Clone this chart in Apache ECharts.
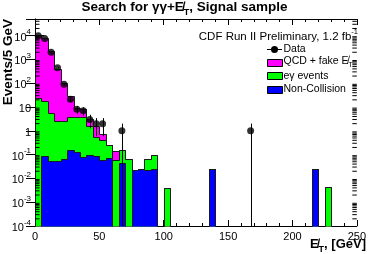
<!DOCTYPE html>
<html><head><meta charset="utf-8">
<script src="https://cdn.jsdelivr.net/npm/echarts@6/dist/echarts.min.js"></script>
<style>html,body{margin:0;padding:0;background:#fff}#c{width:369px;height:254px}</style>
</head><body><div id="c"></div>
<script>
// ---- data (5 GeV bins, low edges) ----
const binWidth = 5;
const binLow = [0,5,10,15,20,25,30,35,40,45,50,55,60,65,70,75,80,85,90,95,
  100,105,110,115,120,125,130,135,140,145,150,155,160,165,170,175,180,185,190,195,
  200,205,210,215,220,225,230,235,240,245];
const nonCollision = [0,0.09,0.052,0.052,0.066,0.16,0.13,0.083,0.095,0.09,
  0.06,0.072,0,0.044,0,0.022,0.024,0.023,0.025,0,
  0,0,0,0,0,0,0,0.024,0,0,
  0,0,0,0,0,0,0,0,0,0,
  0,0,0,0.024,0,0,0,0,0,0];
const egammaEvents = [24,17.9,5.45,2.65,2.63,3.54,3.57,3.62,1.57,0.46,
  0.34,0.19,0.058,0.106,0.068,0,0,0.045,0.075,0,
  0.0041,0,0,0,0,0,0,0,0,0,
  0,0,0,0,0,0,0,0,0,0,
  0,0,0,0,0,0.0045,0,0,0,0];
const qcdFakeMET = [10476,7982,2194,407,104,24.3,5.1,4.6,1.5,1.0,
  0.35,0,0.09,0,0,0,0,0,0,0,
  0,0,0,0,0,0,0,0,0,0,
  0,0,0,0,0,0,0,0,0,0,
  0,0,0,0,0,0,0,0,0,0];
const dataCounts = [10000,7500,2000,450,91,21,8,7,3,2,
  2,0,0,1,0,0,0,0,0,0,
  0,0,0,0,0,0,0,0,0,0,
  0,0,0,1,0,0,0,0,0,0,
  0,0,0,0,0,0,0,0,0,0];
const xTicks = [0,50,100,150,200,250];
const yMin = 1e-4, yMax = 5e4;

// ---- build ----
const FONT = 'Liberation Sans, Arial, Helvetica, sans-serif';
const cumBlue = nonCollision.slice();
const cumGreen = cumBlue.map((v,i)=>v+egammaEvents[i]);
const cumMag = cumGreen.map((v,i)=>v+qcdFakeMET[i]);

function snap(p){ return [Math.round(p[0]) + 0.5, Math.round(p[1]) + 0.5]; }

function histSeries(name, cum, color){
  return {
    type:'custom', name, coordinateSystem:'cartesian2d', silent:true,
    data: [[0, yMin]],
    renderItem:(params, api)=>{
      const children = [];
      let i = 0;
      while (i < cum.length){
        if (!(cum[i] > yMin)) { i++; continue; }
        const pts = [snap(api.coord([binLow[i], yMin]))];
        while (i < cum.length && cum[i] > yMin){
          pts.push(snap(api.coord([binLow[i], cum[i]])));
          pts.push(snap(api.coord([binLow[i] + binWidth, cum[i]])));
          i++;
        }
        pts.push(snap(api.coord([binLow[i-1] + binWidth, yMin])));
        children.push({type:'polygon', shape:{points:pts}, style:{fill:color}});
        children.push({type:'polyline', shape:{points:pts}, style:{stroke:'#1a1a1a', lineWidth:1, fill:null}});
      }
      return {type:'group', children};
    }
  };
}

const dataPts = [];
binLow.forEach((x,i)=>{ if (dataCounts[i] > 0) dataPts.push([x + binWidth/2, dataCounts[i]]); });

// ROOT-like log minor ticks
const yMinor = [];
for (let e=-4; e<=4; e++) for (let k=2; k<=9; k++){ const v = k*Math.pow(10,e); if (v < yMax) yMinor.push(v); }

function yLabel(v){
  const l = Math.log10(v), e = Math.round(l);
  if (Math.abs(l-e) > 1e-6) return '';
  if (e === 0) return '{b|1}';
  if (e === 1) return '{b|10}';
  return '{b|10}{s|' + e + '}';
}

const chart = echarts.init(document.getElementById('c'), null, {renderer:'canvas'});
const axisLine = {show:true, lineStyle:{color:'#000', width:1}};
const xCommon = {type:'value', min:0, max:250, interval:50, splitLine:{show:false},
  axisLine, axisTick:{show:true, inside:true, length:6, lineStyle:{color:'#000'}},
  minorTick:{show:true, splitNumber:5, length:3, lineStyle:{color:'#000'}}};
const yCommon = {type:'log', logBase:10, min:yMin, max:yMax, splitLine:{show:false},
  axisLine, axisTick:{show:true, inside:true, length:9, lineStyle:{color:'#000'}}};

chart.setOption({
  animation:false,
  grid:{left:35, right:9, top:19, bottom:28, containLabel:false},
  xAxis:[
    Object.assign({}, xCommon, {position:'bottom',
      axisLabel:{show:true, fontFamily:FONT, fontSize:11, color:'#000', margin:5,
        formatter:(v)=> xTicks.indexOf(v) >= 0 ? String(v) : ''}}),
    Object.assign({}, xCommon, {position:'top', axisLabel:{show:false}})
  ],
  yAxis:[
    Object.assign({}, yCommon, {position:'left',
      axisLabel:{show:true, margin:4, formatter:yLabel,
        rich:{b:{fontFamily:FONT, fontSize:11, color:'#000', padding:[4,0,0,0]},
              s:{fontFamily:FONT, fontSize:8, color:'#000', verticalAlign:'top'}}}}),
    Object.assign({}, yCommon, {position:'right', axisLabel:{show:false}})
  ],
  series:[
    histSeries('QCD + fake MET', cumMag, '#ff00ff'),
    histSeries('eγ events', cumGreen, '#00ff00'),
    histSeries('Non-Collision', cumBlue, '#0000ff'),
    {type:'custom', name:'minor', silent:true, data:yMinor.map(v=>[0,v]),
      renderItem:(p, api)=>{
        const v = api.value(1);
        const a = api.coord([0, v]), b = api.coord([250, v]);
        const ls = {stroke:'#000', lineWidth:1};
        return {type:'group', children:[
          {type:'line', shape:{x1:a[0], y1:a[1], x2:a[0]+4.5, y2:a[1]}, style:ls},
          {type:'line', shape:{x1:b[0], y1:b[1], x2:b[0]-4.5, y2:b[1]}, style:ls}]};
      }},
    {type:'custom', name:'Data errors', silent:true, data:dataPts,
      renderItem:(p, api)=>{
        const x = api.value(0), n = api.value(1), s = Math.sqrt(n);
        const lo = Math.max(n - s, yMin), hi = n + s;
        const a = api.coord([x, lo]), b = api.coord([x, hi]);
        const xx = Math.round(a[0]) + 0.5;
        return {type:'line', shape:{x1:xx, y1:a[1], x2:xx, y2:b[1]}, style:{stroke:'#000', lineWidth:1}};
      }},
    {type:'scatter', name:'Data', data:dataPts, symbol:'circle', symbolSize:7,
      itemStyle:{color:'#000'}, silent:true}
  ],
  graphic:[
    {type:'text', left:'center', top:0, style:{
      text:'{b|Search for γγ+E̸}{sub|T}{b|, Signal sample}',
      rich:{b:{fontFamily:FONT, fontWeight:'bold', fontSize:13.5, color:'#000', padding:[0,0,3,0]},
            sub:{fontFamily:FONT, fontWeight:'bold', fontSize:9, color:'#000', verticalAlign:'bottom'}}}},
    {type:'text', x:15, y:19, rotation:Math.PI/2, style:{
      text:'Events/5 GeV', fontFamily:FONT, fontWeight:'bold', fontSize:13.5, fill:'#000', align:'right', verticalAlign:'bottom'}},
    {type:'text', x:366, y:238, style:{
      text:'{b|E̸}{sub|T}{b|, [GeV]}', align:'right', verticalAlign:'top',
      rich:{b:{fontFamily:FONT, fontWeight:'bold', fontSize:13, color:'#000', padding:[0,0,3,0]},
            sub:{fontFamily:FONT, fontWeight:'bold', fontSize:9, color:'#000', verticalAlign:'bottom'}}}},
    {type:'text', x:358, y:35, style:{
      text:'{b|CDF Run II Preliminary, 1.2 fb}{s|-1}', align:'right', verticalAlign:'middle',
      rich:{b:{fontFamily:FONT, fontSize:11.5, color:'#000', padding:[3,0,0,0]},
            s:{fontFamily:FONT, fontSize:7.5, color:'#000', verticalAlign:'top'}}}},
    // legend
    {type:'line', shape:{x1:267, y1:49.5, x2:282, y2:49.5}, style:{stroke:'#000', lineWidth:1}},
    {type:'circle', shape:{cx:274.5, cy:49.5, r:3.5}, style:{fill:'#000'}},
    {type:'text', x:283.5, y:49, style:{text:'Data', fontFamily:FONT, fontSize:10.5, fill:'#000', verticalAlign:'middle'}},
    {type:'rect', shape:{x:267.5, y:59.5, width:15, height:7}, style:{fill:'#ff00ff', stroke:'#000', lineWidth:1}},
    {type:'text', x:283.5, y:62.5, style:{text:'{b|QCD + fake E̸}{sub|T}', verticalAlign:'middle',
      rich:{b:{fontFamily:FONT, fontSize:10.5, color:'#000', padding:[0,0,2,0]},
            sub:{fontFamily:FONT, fontSize:7, color:'#000', verticalAlign:'bottom'}}}},
    {type:'rect', shape:{x:267.5, y:72.5, width:15, height:7}, style:{fill:'#00ff00', stroke:'#000', lineWidth:1}},
    {type:'text', x:283.5, y:76, style:{text:'eγ events', fontFamily:FONT, fontSize:10.5, fill:'#000', verticalAlign:'middle'}},
    {type:'rect', shape:{x:267.5, y:86.5, width:15, height:7}, style:{fill:'#0000ff', stroke:'#000', lineWidth:1}},
    {type:'text', x:283.5, y:89.5, style:{text:'Non-Collision', fontFamily:FONT, fontSize:10.5, fill:'#000', verticalAlign:'middle'}}
  ]
});
</script></body></html>
